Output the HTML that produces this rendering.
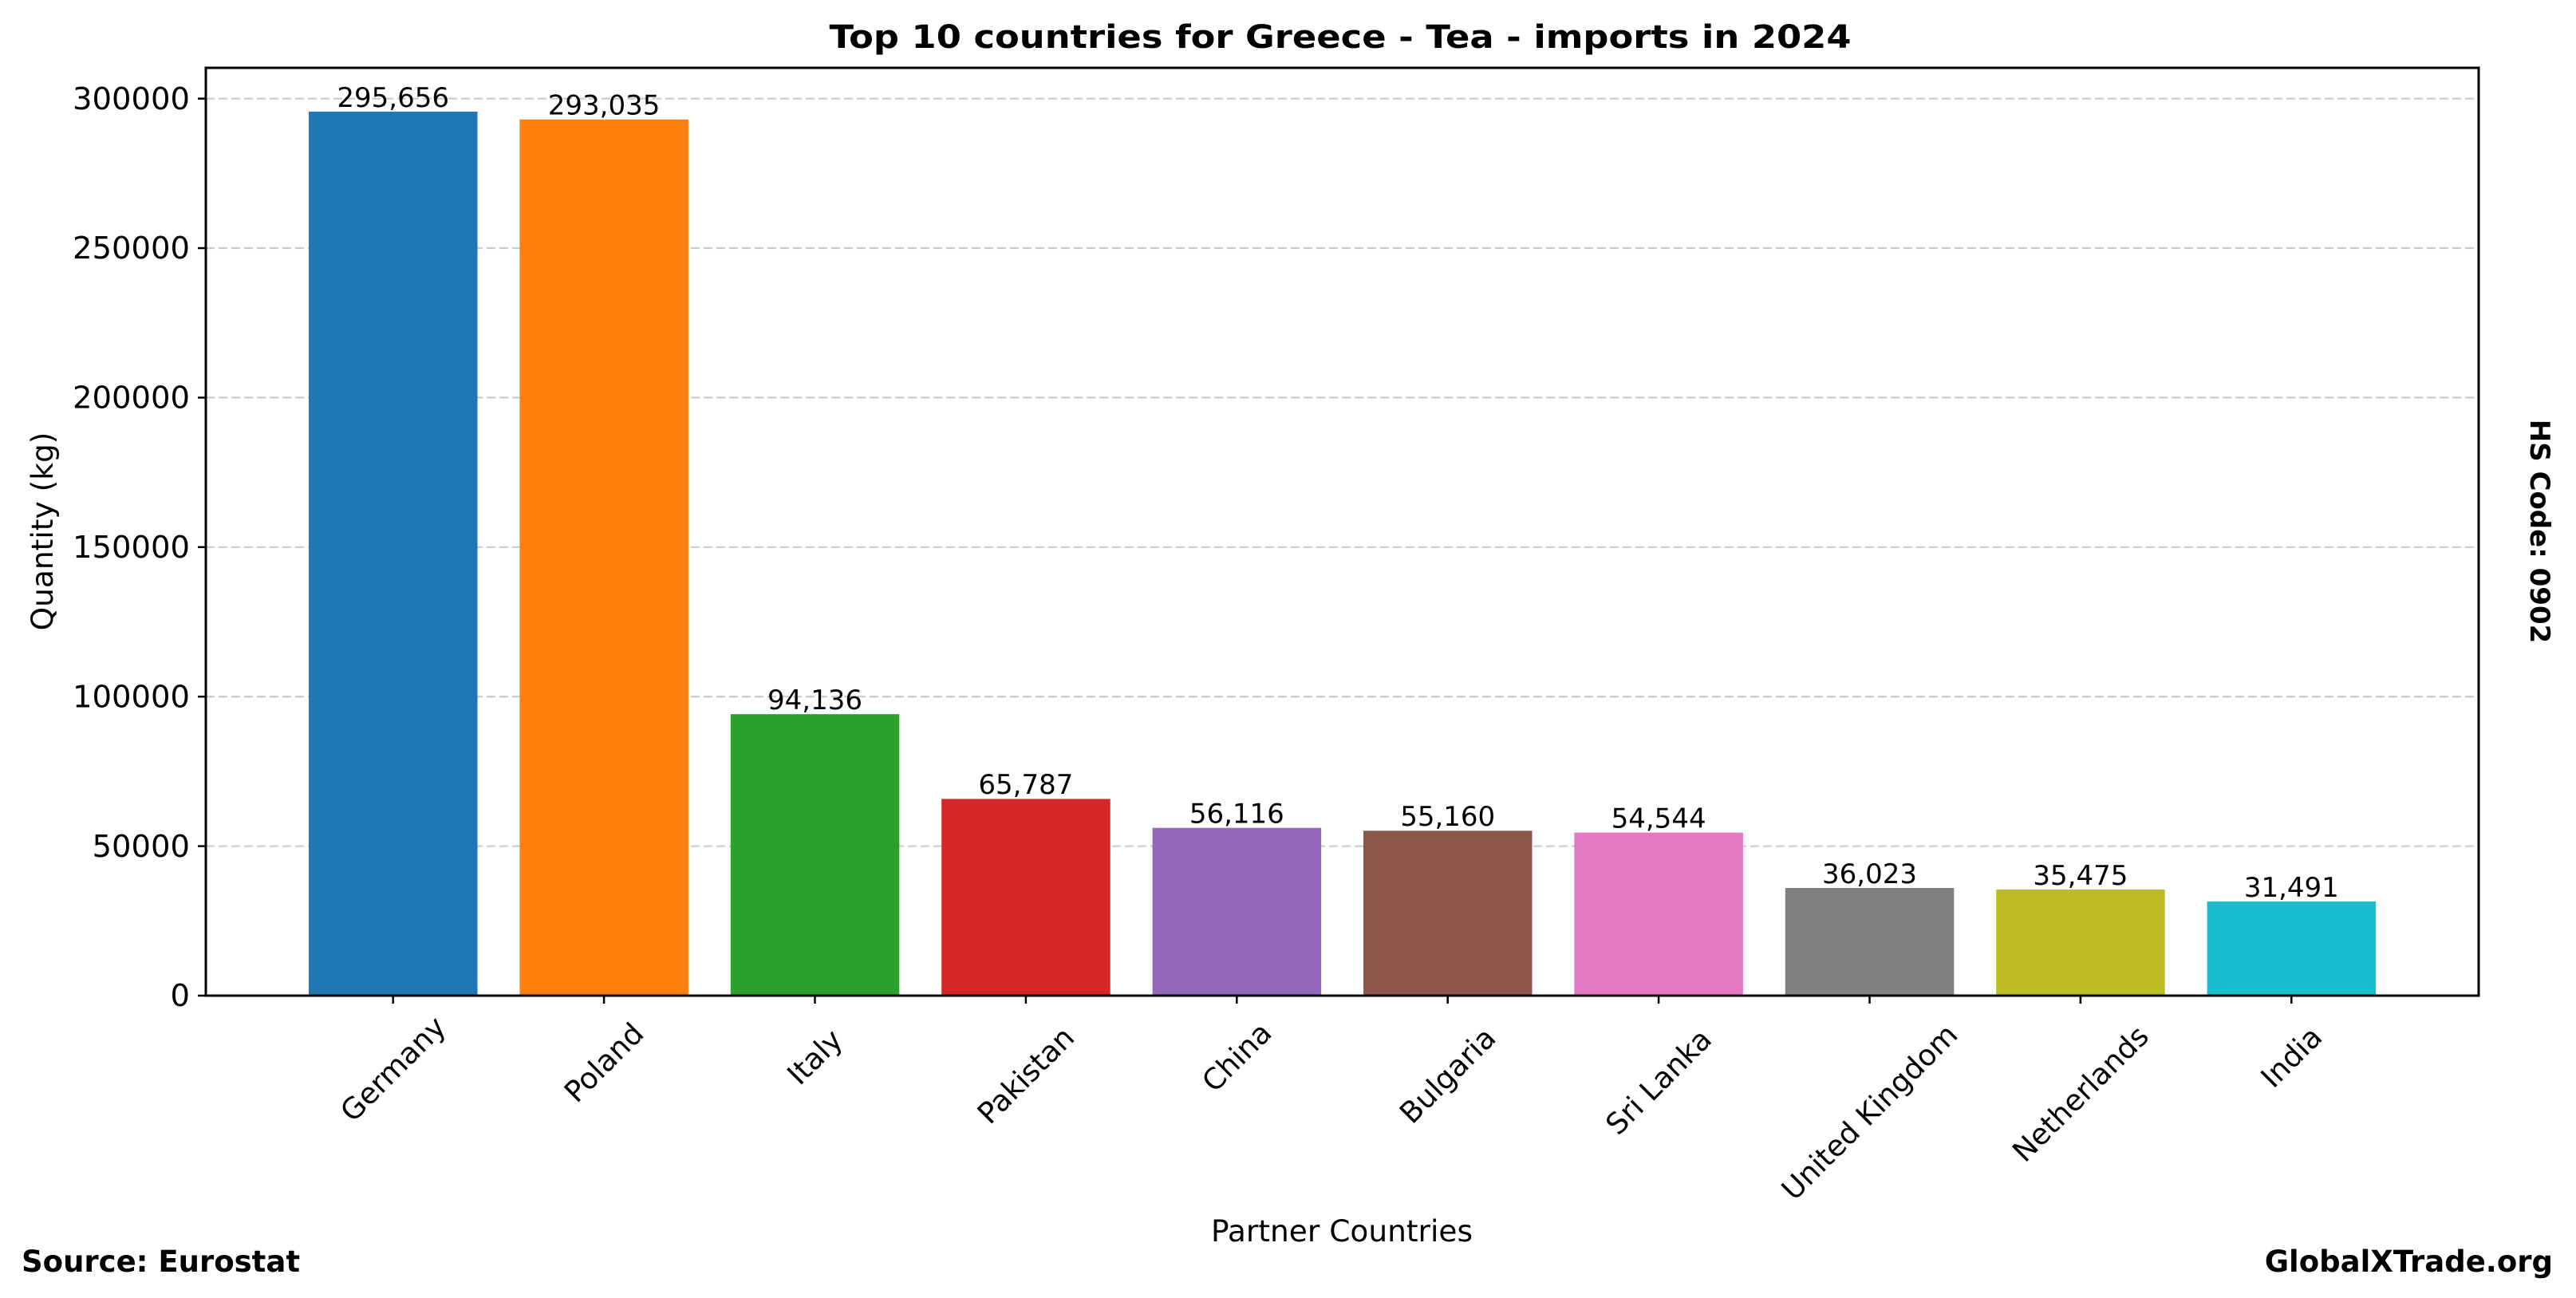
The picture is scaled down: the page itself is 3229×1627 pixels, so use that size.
<!DOCTYPE html>
<html><head><meta charset="utf-8"><style>html,body{margin:0;padding:0;background:#fff}svg{display:block}</style></head>
<body>
<svg width="3229" height="1627" viewBox="0 0 3229 1627" xmlns="http://www.w3.org/2000/svg" font-family="DejaVu Sans, Liberation Sans, sans-serif">
<rect width="3229" height="1627" fill="#fff"/>
<g stroke="#cccccc" stroke-width="2.2" stroke-dasharray="11,5">
<line x1="258" x2="3107" y1="1060.6" y2="1060.6"/>
<line x1="258" x2="3107" y1="873.2" y2="873.2"/>
<line x1="258" x2="3107" y1="685.8" y2="685.8"/>
<line x1="258" x2="3107" y1="498.4" y2="498.4"/>
<line x1="258" x2="3107" y1="311" y2="311"/>
<line x1="258" x2="3107" y1="123.6" y2="123.6"/>
</g>
<g>
<rect x="387" y="139.9" width="211.5" height="1108.1" fill="#1f77b4"/>
<rect x="651.4" y="149.7" width="211.5" height="1098.3" fill="#ff7f0e"/>
<rect x="915.8" y="895.2" width="211.5" height="352.8" fill="#2ca02c"/>
<rect x="1180.2" y="1001.4" width="211.5" height="246.6" fill="#d62728"/>
<rect x="1444.6" y="1037.7" width="211.5" height="210.3" fill="#9467bd"/>
<rect x="1709" y="1041.3" width="211.5" height="206.7" fill="#8c564b"/>
<rect x="1973.4" y="1043.6" width="211.5" height="204.4" fill="#e377c2"/>
<rect x="2237.8" y="1113" width="211.5" height="135" fill="#7f7f7f"/>
<rect x="2502.2" y="1115" width="211.5" height="133" fill="#bcbd22"/>
<rect x="2766.6" y="1130" width="211.5" height="118" fill="#17becf"/>
</g>
<g font-size="34" text-anchor="middle" fill="#000">
<text x="492.7" y="134">295,656</text>
<text x="757.1" y="143.5">293,035</text>
<text x="1021.5" y="889">94,136</text>
<text x="1285.9" y="995">65,787</text>
<text x="1550.3" y="1031.5">56,116</text>
<text x="1814.7" y="1035">55,160</text>
<text x="2079.1" y="1037.5">54,544</text>
<text x="2343.5" y="1107">36,023</text>
<text x="2607.9" y="1109">35,475</text>
<text x="2872.3" y="1124">31,491</text>
</g>
<rect x="258" y="85" width="2849" height="1163" fill="none" stroke="#000" stroke-width="3"/>
<g stroke="#000" stroke-width="2.5">
<line x1="248" x2="258" y1="1248" y2="1248"/><line x1="248" x2="258" y1="1060.6" y2="1060.6"/>
<line x1="248" x2="258" y1="873.2" y2="873.2"/><line x1="248" x2="258" y1="685.8" y2="685.8"/>
<line x1="248" x2="258" y1="498.4" y2="498.4"/><line x1="248" x2="258" y1="311" y2="311"/>
<line x1="248" x2="258" y1="123.6" y2="123.6"/>
<line x1="492.7" x2="492.7" y1="1248" y2="1258"/><line x1="757.1" x2="757.1" y1="1248" y2="1258"/>
<line x1="1021.5" x2="1021.5" y1="1248" y2="1258"/><line x1="1285.9" x2="1285.9" y1="1248" y2="1258"/>
<line x1="1550.3" x2="1550.3" y1="1248" y2="1258"/><line x1="1814.7" x2="1814.7" y1="1248" y2="1258"/>
<line x1="2079.1" x2="2079.1" y1="1248" y2="1258"/><line x1="2343.5" x2="2343.5" y1="1248" y2="1258"/>
<line x1="2607.9" x2="2607.9" y1="1248" y2="1258"/><line x1="2872.3" x2="2872.3" y1="1248" y2="1258"/>
</g>
<g font-size="38.5" text-anchor="end" fill="#000">
<text x="238" y="1261">0</text>
<text x="238" y="1074">50000</text>
<text x="238" y="886.5">100000</text>
<text x="238" y="699">150000</text>
<text x="238" y="511.5">200000</text>
<text x="238" y="324">250000</text>
<text x="238" y="137">300000</text>
</g>
<g font-size="36.5" text-anchor="middle" dominant-baseline="central" fill="#000">
<text transform="translate(492.7,1340) rotate(-45)">Germany</text>
<text transform="translate(757.1,1332) rotate(-45)">Poland</text>
<text transform="translate(1021.5,1325) rotate(-45)">Italy</text>
<text transform="translate(1285.9,1348) rotate(-45)">Pakistan</text>
<text transform="translate(1550.3,1325) rotate(-45)">China</text>
<text transform="translate(1814.7,1348) rotate(-45)">Bulgaria</text>
<text transform="translate(2079.1,1356) rotate(-45)">Sri Lanka</text>
<text transform="translate(2343.5,1394) rotate(-45)">United Kingdom</text>
<text transform="translate(2607.9,1371) rotate(-45)">Netherlands</text>
<text transform="translate(2872.3,1325) rotate(-45)">India</text>
</g>
<text x="1680" y="60" font-size="40" font-weight="bold" text-anchor="middle" textLength="1281" lengthAdjust="spacingAndGlyphs">Top 10 countries for Greece - Tea - imports in 2024</text>
<text x="1682" y="1556" font-size="37.5" text-anchor="middle">Partner Countries</text>
<text transform="translate(66,666) rotate(-90)" font-size="37.5" text-anchor="middle">Quantity (kg)</text>
<text transform="translate(3172,666) rotate(90)" font-size="34" font-weight="bold" text-anchor="middle">HS Code: 0902</text>
<text x="27" y="1594" font-size="37" font-weight="bold">Source: Eurostat</text>
<text x="3200" y="1594" font-size="37" font-weight="bold" text-anchor="end">GlobalXTrade.org</text>
</svg>
</body></html>
